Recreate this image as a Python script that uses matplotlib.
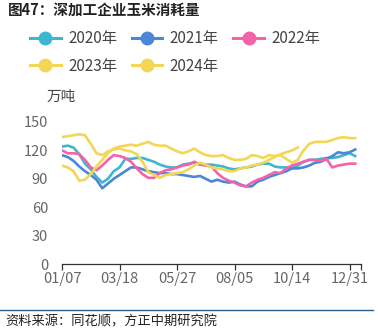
import matplotlib
matplotlib.use("Agg")
import matplotlib.pyplot as plt
from matplotlib.lines import Line2D

plt.rcParams['font.family'] = ['Noto Sans CJK SC', 'DejaVu Sans']

# ---- data (weekly, 万吨) ----
tick_labels = ["01/07", "03/18", "05/27", "08/05", "10/14", "12/31", ""]
tick_pos = [0, 10, 20, 30, 40, 50, 52]

y2020 = [124, 125, 123, 116, 106, 100, 92, 86, 90, 98, 102, 111, 111, 112, 112, 110,
         108, 105, 103, 102, 102, 105, 106, 107, 105, 105, 105, 104, 103, 101, 100, 101,
         102, 103, 105, 106, 106, 103, 102, 102, 101, 104, 108, 110, 110, 111, 112, 112,
         113, 115, 117, 114]
y2021 = [115, 113, 109, 103, 98, 94, 89, 80, 85, 90, 94, 98, 102, 102, 100, 98,
         97, 96, 96, 95, 95, 94, 93, 92, 93, 90, 87, 89, 87, 86, 87, 84,
         82, 82, 87, 89, 92, 94, 96, 98, 101, 101, 102, 104, 107, 108, 111, 114,
         118, 117, 118, 121]
y2022 = [120, 117, 117, 116, 110, 102, 99, 104, 110, 115, 114, 112, 108, 101, 95, 91,
         91, 96, 99, 100, 102, 104, 105, 108, 105, 104, 103, 96, 91, 88, 86, 83,
         82, 86, 89, 91, 94, 97, 96, 101, 104, 106, 108, 110, 110, 109, 111, 102,
         104, 105, 106, 106]
y2023 = [104, 102, 98, 88, 89, 95, 103, 110, 117, 122, 124, 125, 126, 125, 127, 129,
         126, 125, 125, 122, 119, 117, 119, 122, 118, 115, 114, 114, 115, 112, 110, 110,
         111, 115, 114, 112, 115, 114, 115, 111, 107, 110, 120, 127, 129, 129, 129, 131,
         133, 134, 133, 133]
y2024 = [134, 135, 136, 137, 136, 127, 117, 115, 119, 121, 122, 120, 119, 116, 108, 97,
         94, 91, 94, 95, 96, 97, 100, 104, 107, 105, 102, 101, 100, 98, 98, 101,
         102, 104, 105, 107, 110, 113, 116, 118, 120, 123]

series = [("2020年", y2020, "#3DB7CF"),
          ("2021年", y2021, "#4A87D6"),
          ("2022年", y2022, "#F263A8"),
          ("2023年", y2023, "#F3D655"),
          ("2024年", y2024, "#F3D655")]

W, H = 378, 330
fig = plt.figure(figsize=(W / 100, H / 100), dpi=100)
ax = fig.add_axes([62 / W, (H - 264) / H, (361 - 62) / W, 142 / H])

for name, ys, c in series:
    ax.plot(range(len(ys)), ys, color=c, lw=1.9, solid_joinstyle='round')

ax.set_xlim(0, 52)
ax.set_ylim(0, 150)
ax.set_yticks([0, 30, 60, 90, 120, 150])
ax.set_xticks(tick_pos)
ax.set_xticklabels(tick_labels)
for s in ['top', 'right', 'left']:
    ax.spines[s].set_visible(False)
ax.spines['bottom'].set_color('#333333')
ax.spines['bottom'].set_linewidth(0.9)
ax.tick_params(axis='y', length=0, pad=10, labelsize=10.5, labelcolor='#666666')
ax.tick_params(axis='x', length=4, width=0.9, color='#333333', pad=2,
               labelsize=10.5, labelcolor='#666666')

# legend (row-major order)
handles = [Line2D([0], [0], color=c, lw=2.2, marker='o', markersize=9,
                  markerfacecolor=c, markeredgecolor=c) for _, _, c in series]
labels = [n for n, _, _ in series]
order = [0, 3, 1, 4, 2]
fig.legend([handles[i] for i in order], [labels[i] for i in order],
           ncol=3, loc='upper left', bbox_to_anchor=(30 / W, 1 - 30 / H),
           frameon=False, borderpad=0, borderaxespad=0, handlelength=2.0,
           handletextpad=0.5, columnspacing=0.95, labelspacing=0.7,
           prop={'size': 11}, labelcolor='#444444')

fig.text(8 / W, 1 - 10 / H, "图47：深加工企业玉米消耗量", fontsize=10.5,
         fontweight='bold', color='#222222', va='center', ha='left')
fig.text(47 / W, 1 - 97 / H, "万吨", fontsize=10.5, color='#444444',
         va='center', ha='left')

fig.add_artist(Line2D([0, 373 / W], [1 - 310 / H, 1 - 310 / H],
                      color='#2B5F8A', lw=1.0, transform=fig.transFigure))
fig.text(5 / W, 1 - 322 / H, "资料来源：同花顺，方正中期研究院", fontsize=9.5,
         color='#222222', va='center', ha='left', fontstyle='italic')

fig.savefig("out.png", dpi=100)
